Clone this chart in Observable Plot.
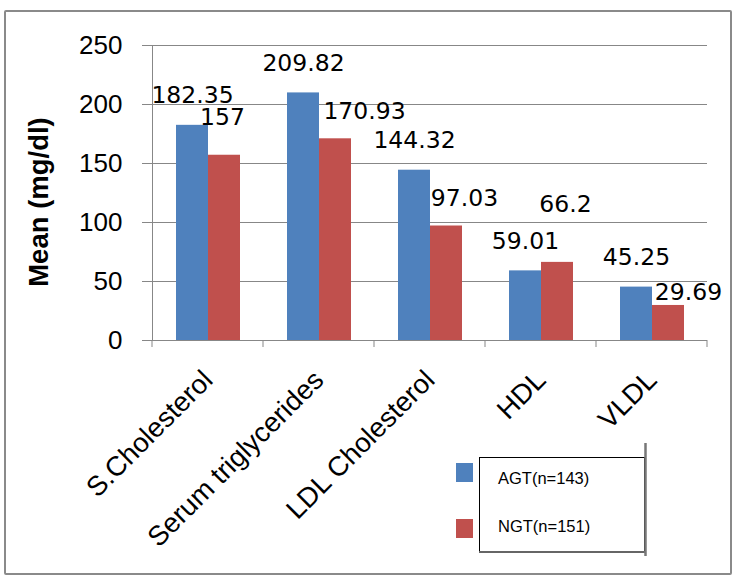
<!DOCTYPE html>
<html><head><meta charset="utf-8">
<script src="https://cdn.jsdelivr.net/npm/d3@7"></script>
<script src="https://cdn.jsdelivr.net/npm/@observablehq/plot@0.6"></script>
<style>
body{margin:0;background:#fff;}
#wrap{position:relative;width:738px;height:582px;overflow:hidden;}
#border{position:absolute;left:4px;top:10px;width:724px;height:561px;border:2px solid #8a8a8a;border-radius:2px;pointer-events:none;}
#wrap svg{position:absolute;left:0;top:0;}
</style></head><body>
<div id="wrap"><div id="border"></div></div>
<script>
const categories = ["S.Cholesterol", "Serum triglycerides", "LDL Cholesterol", "HDL", "VLDL"];
const series = ["AGT(n=143)", "NGT(n=151)"];
const agtValues = [182.35, 209.82, 144.32, 59.01, 45.25];
const ngtValues = [157, 170.93, 97.03, 66.2, 29.69];
const yTicks = [0, 50, 100, 150, 200, 250];
const yLabel = "Mean (mg/dl)";

const data = categories.flatMap((c, i) => [
  {category: c, group: series[0], value: agtValues[i]},
  {category: c, group: series[1], value: ngtValues[i]}
]);

// individual offsets for the NGT value labels as placed in the original
const ngtShift = [[-2, -30], [29, -20], [18, -20], [8, -50], [20, -5]];

const labelFont = "DejaVu Sans";
const ngtLabelMarks = categories.map((c, i) =>
  Plot.text(data.filter(d => d.category === c && d.group === series[1]), {
    fx: "category", x: "group", y: "value", text: d => String(d.value),
    dx: ngtShift[i][0], dy: ngtShift[i][1], lineAnchor: "bottom",
    fontSize: 23.5, fontFamily: labelFont, fill: "black"
  })
);

const plot = Plot.plot({
  width: 738, height: 582,
  marginLeft: 152, marginRight: 31, marginTop: 45, marginBottom: 242,
  style: {fontFamily: "Liberation Sans, Arial, sans-serif", background: "transparent", color: "black", overflow: "visible"},
  fx: {domain: categories, padding: 0, label: null},
  x: {domain: series, paddingInner: 0, paddingOuter: 0.73, axis: null},
  y: {domain: [0, 250]},
  color: {domain: series, range: ["#4F81BD", "#C0504D"]},
  marks: [
    Plot.gridY(yTicks, {stroke: "#878787", strokeOpacity: 1, strokeWidth: 1}),
    Plot.axisY(yTicks, {tickSize: 10, tickPadding: 20, fontSize: 26, label: null, stroke: "#878787", fill: "black"}),
    Plot.axisFx({anchor: "bottom", tickRotate: -45, tickSize: 0, tickPadding: 35, fontSize: 27.5, label: null, fill: "black"}),
    Plot.barY(data, {fx: "category", x: "group", y: "value", fill: "group"}),
    Plot.text(data.filter(d => d.group === series[0]), {
      fx: "category", x: "group", y: "value", text: d => String(d.value),
      dy: -22, lineAnchor: "bottom", fontSize: 23.5, fontFamily: labelFont, fill: "black"
    }),
    ...ngtLabelMarks
  ]
});

document.getElementById("wrap").appendChild(plot);

// axis line and category boundary ticks, placed through the plot's scales
const svg = d3.select(plot);
const fx = plot.scale("fx");
const y = plot.scale("y");
const color = plot.scale("color");
const y0 = y.apply(0), yTop = y.apply(250);
const left = fx.apply(categories[0]);
const right = fx.apply(categories[categories.length - 1]) + fx.bandwidth;
const g = svg.append("g").attr("stroke", "#878787").attr("stroke-width", 1);
g.append("line").attr("x1", left + 0.5).attr("x2", left + 0.5).attr("y1", yTop).attr("y2", y0);
const bounds = categories.map(c => fx.apply(c)).concat([right]);
bounds.forEach(b => g.append("line").attr("x1", b).attr("x2", b).attr("y1", y0).attr("y2", y0 + 7));

// y-axis title
svg.append("text")
  .attr("transform", "translate(48,202) rotate(-90)")
  .attr("text-anchor", "middle")
  .attr("font-family", "Liberation Sans, Arial, sans-serif")
  .attr("font-weight", "bold")
  .attr("font-size", 27.5)
  .attr("fill", "black")
  .text(yLabel);

// legend
const lg = svg.append("g").attr("text-anchor", "start");
lg.append("rect").attr("x", 479.5).attr("y", 457.5).attr("width", 165).attr("height", 94)
  .attr("fill", "white").attr("stroke", "black").attr("stroke-width", 1);
lg.append("line").attr("x1", 479).attr("x2", 646).attr("y1", 552).attr("y2", 552).attr("stroke", "#666").attr("stroke-width", 2);
lg.append("line").attr("x1", 645.5).attr("x2", 645.5).attr("y1", 443).attr("y2", 556).attr("stroke", "#777").attr("stroke-width", 2.5);
series.forEach((s, i) => {
  lg.append("rect").attr("x", 456).attr("y", 463 + i * 56).attr("width", 17).attr("height", 19).attr("fill", color.apply(s));
  lg.append("text").attr("x", 498).attr("y", 484 + i * 48).attr("text-anchor", "start")
    .attr("font-family", "Liberation Sans, Arial, sans-serif")
    .attr("font-size", 16.5).attr("fill", "black").text(s);
});
</script>
</body></html>
